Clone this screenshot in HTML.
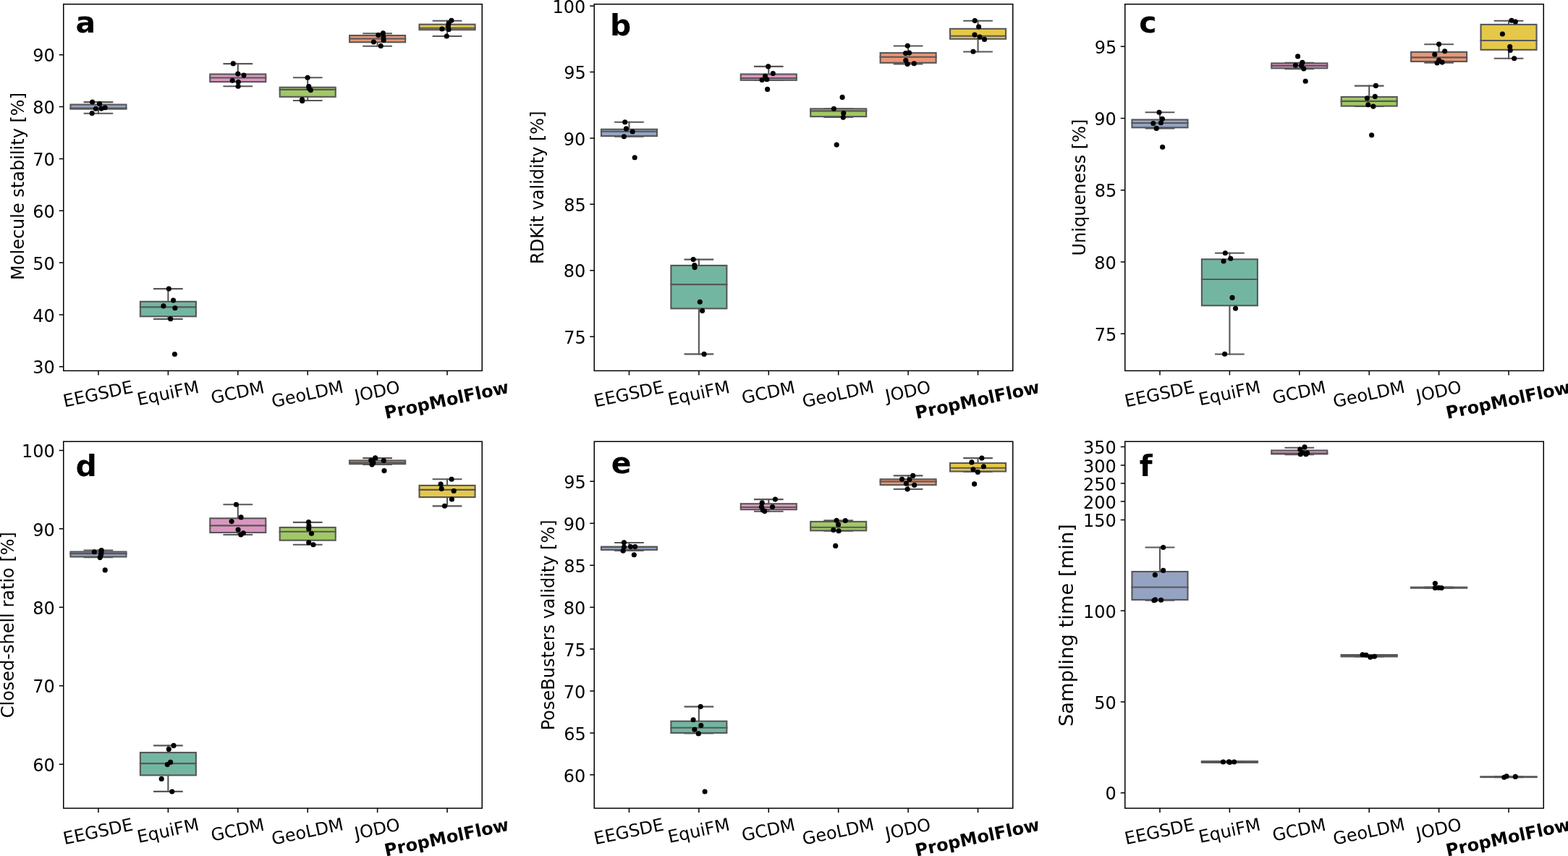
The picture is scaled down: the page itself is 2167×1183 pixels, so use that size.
<!DOCTYPE html>
<html><head><meta charset="utf-8"><title>Benchmark comparison box plots</title>
<style>
html,body{margin:0;padding:0;background:#fff;}
body{width:2167px;height:1183px;overflow:hidden;}
svg{display:block;}
text{font-family:"DejaVu Sans","Liberation Sans",sans-serif;fill:#000;}
</style></head><body>
<svg width="2167" height="1183" viewBox="0 0 2167 1183">
<rect width="2167" height="1183" fill="#fff"/>
<g stroke="#575757" stroke-width="2.1" stroke-linecap="square" fill="none"><line x1="135.96" y1="141.1" x2="135.96" y2="144.5"/><line x1="135.96" y1="150.6" x2="135.96" y2="156.7"/><line x1="116.66" y1="141.1" x2="155.26" y2="141.1"/><line x1="116.66" y1="156.7" x2="155.26" y2="156.7"/><rect x="97.46" y="144.5" width="77" height="6.1" fill="#95a3c3"/><line x1="97.46" y1="149.6" x2="174.46" y2="149.6"/><line x1="232.38" y1="399.1" x2="232.38" y2="416.8"/><line x1="232.38" y1="437.3" x2="232.38" y2="440.9"/><line x1="213.07" y1="399.1" x2="251.68" y2="399.1"/><line x1="213.07" y1="440.9" x2="251.68" y2="440.9"/><rect x="193.88" y="416.8" width="77" height="20.5" fill="#72b6a1"/><line x1="193.88" y1="424.4" x2="270.88" y2="424.4"/><line x1="328.79" y1="88.1" x2="328.79" y2="102.5"/><line x1="328.79" y1="113.1" x2="328.79" y2="119.3"/><line x1="309.49" y1="88.1" x2="348.09" y2="88.1"/><line x1="309.49" y1="119.3" x2="348.09" y2="119.3"/><rect x="290.29" y="102.5" width="77" height="10.6" fill="#db96c0"/><line x1="290.29" y1="107.5" x2="367.29" y2="107.5"/><line x1="425.21" y1="107.3" x2="425.21" y2="120.7"/><line x1="425.21" y1="133.8" x2="425.21" y2="139"/><line x1="405.91" y1="107.3" x2="444.51" y2="107.3"/><line x1="405.91" y1="139" x2="444.51" y2="139"/><rect x="386.71" y="120.7" width="77" height="13.1" fill="#a2c865"/><line x1="386.71" y1="123.9" x2="463.71" y2="123.9"/><line x1="521.62" y1="46.3" x2="521.62" y2="49"/><line x1="521.62" y1="58.3" x2="521.62" y2="63.8"/><line x1="502.32" y1="46.3" x2="540.92" y2="46.3"/><line x1="502.32" y1="63.8" x2="540.92" y2="63.8"/><rect x="483.12" y="49" width="77" height="9.3" fill="#e99675"/><line x1="483.12" y1="53.5" x2="560.12" y2="53.5"/><line x1="618.04" y1="28.7" x2="618.04" y2="33.7"/><line x1="618.04" y1="41.2" x2="618.04" y2="50"/><line x1="598.74" y1="28.7" x2="637.34" y2="28.7"/><line x1="598.74" y1="50" x2="637.34" y2="50"/><rect x="579.54" y="33.7" width="77" height="7.5" fill="#e5c849"/><line x1="579.54" y1="38.7" x2="656.54" y2="38.7"/></g>
<g fill="#000"><circle cx="127.6" cy="141" r="3.55"/><circle cx="137.6" cy="143.4" r="3.55"/><circle cx="132.3" cy="150.3" r="3.55"/><circle cx="140.1" cy="150.1" r="3.55"/><circle cx="145.2" cy="148.7" r="3.55"/><circle cx="127.2" cy="156.5" r="3.55"/><circle cx="233.3" cy="399.1" r="3.55"/><circle cx="239.5" cy="415.1" r="3.55"/><circle cx="225.9" cy="422.9" r="3.55"/><circle cx="241.9" cy="425.8" r="3.55"/><circle cx="235.7" cy="440.7" r="3.55"/><circle cx="241.4" cy="489.5" r="3.55"/><circle cx="322.3" cy="87.9" r="3.55"/><circle cx="328.8" cy="102.1" r="3.55"/><circle cx="337" cy="104.1" r="3.55"/><circle cx="321.2" cy="111.3" r="3.55"/><circle cx="329.3" cy="113.3" r="3.55"/><circle cx="329.1" cy="119.3" r="3.55"/><circle cx="425.1" cy="107.3" r="3.55"/><circle cx="426.7" cy="119.6" r="3.55"/><circle cx="427.2" cy="122.3" r="3.55"/><circle cx="429.4" cy="124.6" r="3.55"/><circle cx="417.5" cy="137.6" r="3.55"/><circle cx="417.7" cy="139.4" r="3.55"/><circle cx="529.4" cy="45.7" r="3.55"/><circle cx="522.8" cy="48.6" r="3.55"/><circle cx="529.9" cy="51" r="3.55"/><circle cx="530.1" cy="55.5" r="3.55"/><circle cx="516.4" cy="58" r="3.55"/><circle cx="526.3" cy="63.5" r="3.55"/><circle cx="623.9" cy="28.3" r="3.55"/><circle cx="620.1" cy="32.2" r="3.55"/><circle cx="619.4" cy="36.2" r="3.55"/><circle cx="610.9" cy="40" r="3.55"/><circle cx="620.1" cy="40.7" r="3.55"/><circle cx="617.3" cy="50" r="3.55"/></g>
<rect x="87.75" y="5.75" width="578.5" height="506.65" fill="none" stroke="#000" stroke-width="1.5"/>
<path d="M81.75 506.7H87.75M81.75 434.88H87.75M81.75 363.07H87.75M81.75 291.25H87.75M81.75 219.43H87.75M81.75 147.62H87.75M81.75 75.8H87.75M135.96 512.4V518.4M232.38 512.4V518.4M328.79 512.4V518.4M425.21 512.4V518.4M521.62 512.4V518.4M618.04 512.4V518.4" stroke="#000" stroke-width="1.5" fill="none"/>
<text id="yt_a_30" x="45.14" y="516.35" font-size="24">30</text>
<text id="yt_a_40" x="45.14" y="444.53" font-size="24">40</text>
<text id="yt_a_50" x="45.14" y="372.72" font-size="24">50</text>
<text id="yt_a_60" x="45.14" y="300.9" font-size="24">60</text>
<text id="yt_a_70" x="45.14" y="229.08" font-size="24">70</text>
<text id="yt_a_80" x="45.14" y="157.27" font-size="24">80</text>
<text id="yt_a_90" x="45.14" y="85.45" font-size="24">90</text>
<text id="yl_a" transform="translate(33.08,386.93) rotate(-90)" font-size="24">Molecule stability [%]</text>
<text id="lt_a" x="104.42" y="45.29" font-size="41" font-weight="bold">a</text>
<text id="xt_a_0" transform="translate(89.33,562.74) rotate(-12)" font-size="24">EEGSDE</text>
<text id="xt_a_1" transform="translate(191.43,560.44) rotate(-12)" font-size="24">EquiFM</text>
<text id="xt_a_2" transform="translate(293.6,558.18) rotate(-12)" font-size="24">GCDM</text>
<text id="xt_a_3" transform="translate(377.33,563.13) rotate(-12)" font-size="24">GeoLDM</text>
<text id="xt_a_4" transform="translate(491.99,555.54) rotate(-12)" font-size="24">JODO</text>
<text id="xt_a_5" transform="translate(533.36,579.05) rotate(-12)" font-size="24" font-weight="bold">PropMolFlow</text>
<g stroke="#575757" stroke-width="2.1" stroke-linecap="square" fill="none"><line x1="869.46" y1="168.8" x2="869.46" y2="178.7"/><line x1="869.46" y1="188" x2="869.46" y2="188.8"/><line x1="850.16" y1="168.8" x2="888.76" y2="168.8"/><line x1="850.16" y1="188.8" x2="888.76" y2="188.8"/><rect x="830.96" y="178.7" width="77" height="9.3" fill="#95a3c3"/><line x1="830.96" y1="181.7" x2="907.96" y2="181.7"/><line x1="965.88" y1="358.6" x2="965.88" y2="366.9"/><line x1="965.88" y1="426.4" x2="965.88" y2="489.4"/><line x1="946.58" y1="358.6" x2="985.17" y2="358.6"/><line x1="946.58" y1="489.4" x2="985.17" y2="489.4"/><rect x="927.38" y="366.9" width="77" height="59.5" fill="#72b6a1"/><line x1="927.38" y1="393.1" x2="1004.38" y2="393.1"/><line x1="1062.29" y1="91.9" x2="1062.29" y2="102.5"/><line x1="1042.99" y1="91.9" x2="1081.59" y2="91.9"/><line x1="1042.99" y1="110.8" x2="1081.59" y2="110.8"/><rect x="1023.79" y="102.5" width="77" height="8.3" fill="#db96c0"/><line x1="1023.79" y1="108" x2="1100.79" y2="108"/><line x1="1158.71" y1="161.1" x2="1158.71" y2="161.9"/><line x1="1139.41" y1="150.3" x2="1178.01" y2="150.3"/><line x1="1139.41" y1="161.9" x2="1178.01" y2="161.9"/><rect x="1120.21" y="150.3" width="77" height="10.8" fill="#a2c865"/><line x1="1120.21" y1="153.4" x2="1197.21" y2="153.4"/><line x1="1255.12" y1="63.5" x2="1255.12" y2="73.1"/><line x1="1255.12" y1="86.8" x2="1255.12" y2="88.4"/><line x1="1235.83" y1="63.5" x2="1274.42" y2="63.5"/><line x1="1235.83" y1="88.4" x2="1274.42" y2="88.4"/><rect x="1216.62" y="73.1" width="77" height="13.7" fill="#e99675"/><line x1="1216.62" y1="78.7" x2="1293.62" y2="78.7"/><line x1="1351.54" y1="28.7" x2="1351.54" y2="39.8"/><line x1="1351.54" y1="53.8" x2="1351.54" y2="71.5"/><line x1="1332.24" y1="28.7" x2="1370.84" y2="28.7"/><line x1="1332.24" y1="71.5" x2="1370.84" y2="71.5"/><rect x="1313.04" y="39.8" width="77" height="14" fill="#e5c849"/><line x1="1313.04" y1="49.7" x2="1390.04" y2="49.7"/></g>
<g fill="#000"><circle cx="863.7" cy="168.8" r="3.55"/><circle cx="865.4" cy="177.9" r="3.55"/><circle cx="874.2" cy="182" r="3.55"/><circle cx="862.4" cy="188.8" r="3.55"/><circle cx="877.2" cy="217.7" r="3.55"/><circle cx="958.2" cy="358.6" r="3.55"/><circle cx="959.8" cy="366.5" r="3.55"/><circle cx="960.1" cy="369.6" r="3.55"/><circle cx="967.3" cy="417.2" r="3.55"/><circle cx="970.6" cy="429.6" r="3.55"/><circle cx="973.1" cy="489.4" r="3.55"/><circle cx="1061.7" cy="91.9" r="3.55"/><circle cx="1068.3" cy="101.6" r="3.55"/><circle cx="1057.5" cy="105.3" r="3.55"/><circle cx="1059.8" cy="109.7" r="3.55"/><circle cx="1053.1" cy="110.5" r="3.55"/><circle cx="1060.6" cy="123.4" r="3.55"/><circle cx="1164.1" cy="134.4" r="3.55"/><circle cx="1152.4" cy="150.3" r="3.55"/><circle cx="1165.8" cy="156.4" r="3.55"/><circle cx="1165.3" cy="162.2" r="3.55"/><circle cx="1156.2" cy="200.1" r="3.55"/><circle cx="1254.3" cy="63.2" r="3.55"/><circle cx="1251.6" cy="73.6" r="3.55"/><circle cx="1256.6" cy="73.1" r="3.55"/><circle cx="1251.8" cy="83.5" r="3.55"/><circle cx="1254.1" cy="88.6" r="3.55"/><circle cx="1263.3" cy="87.7" r="3.55"/><circle cx="1347.2" cy="28.6" r="3.55"/><circle cx="1352.6" cy="37.1" r="3.55"/><circle cx="1347" cy="48.1" r="3.55"/><circle cx="1354" cy="51.1" r="3.55"/><circle cx="1360.5" cy="54.4" r="3.55"/><circle cx="1345" cy="71.3" r="3.55"/></g>
<rect x="821.25" y="5.75" width="578.5" height="506.65" fill="none" stroke="#000" stroke-width="1.5"/>
<path d="M815.25 465.15H821.25M815.25 373.76H821.25M815.25 282.37H821.25M815.25 190.98H821.25M815.25 99.59H821.25M815.25 8.2H821.25M869.46 512.4V518.4M965.88 512.4V518.4M1062.29 512.4V518.4M1158.71 512.4V518.4M1255.12 512.4V518.4M1351.54 512.4V518.4" stroke="#000" stroke-width="1.5" fill="none"/>
<text id="yt_b_75" x="779.14" y="474.61" font-size="24">75</text>
<text id="yt_b_80" x="778.64" y="383.41" font-size="24">80</text>
<text id="yt_b_85" x="779.14" y="292.02" font-size="24">85</text>
<text id="yt_b_90" x="778.64" y="200.63" font-size="24">90</text>
<text id="yt_b_95" x="779.14" y="109.24" font-size="24">95</text>
<text id="yt_b_100" x="763.39" y="17.85" font-size="24">100</text>
<text id="yl_b" transform="translate(751.42,365.02) rotate(-90)" font-size="24">RDKit validity [%]</text>
<text id="lt_b" x="843.1" y="49.15" font-size="41" font-weight="bold">b</text>
<text id="xt_b_0" transform="translate(822.83,562.74) rotate(-12)" font-size="24">EEGSDE</text>
<text id="xt_b_1" transform="translate(924.93,560.44) rotate(-12)" font-size="24">EquiFM</text>
<text id="xt_b_2" transform="translate(1027.1,558.18) rotate(-12)" font-size="24">GCDM</text>
<text id="xt_b_3" transform="translate(1110.83,563.13) rotate(-12)" font-size="24">GeoLDM</text>
<text id="xt_b_4" transform="translate(1225.49,555.54) rotate(-12)" font-size="24">JODO</text>
<text id="xt_b_5" transform="translate(1266.86,579.05) rotate(-12)" font-size="24" font-weight="bold">PropMolFlow</text>
<g stroke="#575757" stroke-width="2.1" stroke-linecap="square" fill="none"><line x1="1602.96" y1="155.3" x2="1602.96" y2="165.4"/><line x1="1602.96" y1="176.3" x2="1602.96" y2="177.4"/><line x1="1583.66" y1="155.3" x2="1622.26" y2="155.3"/><line x1="1583.66" y1="177.4" x2="1622.26" y2="177.4"/><rect x="1564.46" y="165.4" width="77" height="10.9" fill="#95a3c3"/><line x1="1564.46" y1="170" x2="1641.46" y2="170"/><line x1="1699.38" y1="349.7" x2="1699.38" y2="358.3"/><line x1="1699.38" y1="422.3" x2="1699.38" y2="489.5"/><line x1="1680.08" y1="349.7" x2="1718.67" y2="349.7"/><line x1="1680.08" y1="489.5" x2="1718.67" y2="489.5"/><rect x="1660.88" y="358.3" width="77" height="64" fill="#72b6a1"/><line x1="1660.88" y1="386" x2="1737.88" y2="386"/><line x1="1795.79" y1="86.9" x2="1795.79" y2="87.4"/><line x1="1795.79" y1="94.3" x2="1795.79" y2="95.1"/><line x1="1776.49" y1="86.9" x2="1815.09" y2="86.9"/><line x1="1776.49" y1="95.1" x2="1815.09" y2="95.1"/><rect x="1757.29" y="87.4" width="77" height="6.9" fill="#db96c0"/><line x1="1757.29" y1="90.9" x2="1834.29" y2="90.9"/><line x1="1892.21" y1="118.6" x2="1892.21" y2="133.9"/><line x1="1872.91" y1="118.6" x2="1911.51" y2="118.6"/><line x1="1872.91" y1="146.9" x2="1911.51" y2="146.9"/><rect x="1853.71" y="133.9" width="77" height="12.7" fill="#a2c865"/><line x1="1853.71" y1="139.9" x2="1930.71" y2="139.9"/><line x1="1988.62" y1="61.2" x2="1988.62" y2="71.9"/><line x1="1988.62" y1="85" x2="1988.62" y2="86.6"/><line x1="1969.33" y1="61.2" x2="2007.92" y2="61.2"/><line x1="1969.33" y1="86.6" x2="2007.92" y2="86.6"/><rect x="1950.12" y="71.9" width="77" height="13.1" fill="#e99675"/><line x1="1950.12" y1="79.4" x2="2027.12" y2="79.4"/><line x1="2085.04" y1="28.8" x2="2085.04" y2="33.9"/><line x1="2085.04" y1="68.8" x2="2085.04" y2="80.7"/><line x1="2065.74" y1="28.8" x2="2104.34" y2="28.8"/><line x1="2065.74" y1="80.7" x2="2104.34" y2="80.7"/><rect x="2046.54" y="33.9" width="77" height="34.9" fill="#e5c849"/><line x1="2046.54" y1="56" x2="2123.54" y2="56"/></g>
<g fill="#000"><circle cx="1602" cy="155.2" r="3.55"/><circle cx="1606.4" cy="164.2" r="3.55"/><circle cx="1593.8" cy="170.5" r="3.55"/><circle cx="1604.4" cy="169.8" r="3.55"/><circle cx="1598.2" cy="177.4" r="3.55"/><circle cx="1606.6" cy="203.2" r="3.55"/><circle cx="1693.3" cy="349.7" r="3.55"/><circle cx="1700.7" cy="357.3" r="3.55"/><circle cx="1691" cy="361" r="3.55"/><circle cx="1703" cy="411.4" r="3.55"/><circle cx="1707.5" cy="426.2" r="3.55"/><circle cx="1692.6" cy="489.3" r="3.55"/><circle cx="1793.6" cy="77.9" r="3.55"/><circle cx="1799.9" cy="86.4" r="3.55"/><circle cx="1790.4" cy="90.3" r="3.55"/><circle cx="1798.4" cy="90.6" r="3.55"/><circle cx="1801.8" cy="95" r="3.55"/><circle cx="1804.2" cy="112.3" r="3.55"/><circle cx="1901.4" cy="118.4" r="3.55"/><circle cx="1900.3" cy="133.4" r="3.55"/><circle cx="1889.4" cy="135.7" r="3.55"/><circle cx="1890.8" cy="144.7" r="3.55"/><circle cx="1897.9" cy="147.1" r="3.55"/><circle cx="1895.6" cy="186.7" r="3.55"/><circle cx="1988.6" cy="61.1" r="3.55"/><circle cx="1996.7" cy="70.8" r="3.55"/><circle cx="1982.8" cy="75.3" r="3.55"/><circle cx="1988.6" cy="83.4" r="3.55"/><circle cx="1986.1" cy="87" r="3.55"/><circle cx="1993.1" cy="86.1" r="3.55"/><circle cx="2089" cy="28.3" r="3.55"/><circle cx="2094.4" cy="30.1" r="3.55"/><circle cx="2076.4" cy="47" r="3.55"/><circle cx="2086.7" cy="64.5" r="3.55"/><circle cx="2087.2" cy="69.5" r="3.55"/><circle cx="2092.7" cy="80.7" r="3.55"/></g>
<rect x="1554.75" y="5.75" width="578.5" height="506.65" fill="none" stroke="#000" stroke-width="1.5"/>
<path d="M1548.75 461.3H1554.75M1548.75 362.02H1554.75M1548.75 262.75H1554.75M1548.75 163.48H1554.75M1548.75 64.2H1554.75M1602.96 512.4V518.4M1699.38 512.4V518.4M1795.79 512.4V518.4M1892.21 512.4V518.4M1988.62 512.4V518.4M2085.04 512.4V518.4" stroke="#000" stroke-width="1.5" fill="none"/>
<text id="yt_c_75" x="1512.64" y="470.76" font-size="24">75</text>
<text id="yt_c_80" x="1512.14" y="371.67" font-size="24">80</text>
<text id="yt_c_85" x="1512.64" y="272.4" font-size="24">85</text>
<text id="yt_c_90" x="1512.14" y="173.13" font-size="24">90</text>
<text id="yt_c_95" x="1512.64" y="73.85" font-size="24">95</text>
<text id="yl_c" transform="translate(1499.88,353.49) rotate(-90)" font-size="24">Uniqueness [%]</text>
<text id="lt_c" x="1574.22" y="45.29" font-size="41" font-weight="bold">c</text>
<text id="xt_c_0" transform="translate(1556.33,562.74) rotate(-12)" font-size="24">EEGSDE</text>
<text id="xt_c_1" transform="translate(1658.43,560.44) rotate(-12)" font-size="24">EquiFM</text>
<text id="xt_c_2" transform="translate(1760.6,558.18) rotate(-12)" font-size="24">GCDM</text>
<text id="xt_c_3" transform="translate(1844.33,563.13) rotate(-12)" font-size="24">GeoLDM</text>
<text id="xt_c_4" transform="translate(1958.99,555.54) rotate(-12)" font-size="24">JODO</text>
<text id="xt_c_5" transform="translate(2000.36,579.05) rotate(-12)" font-size="24" font-weight="bold">PropMolFlow</text>
<g stroke="#575757" stroke-width="2.1" stroke-linecap="square" fill="none"><line x1="135.96" y1="760.5" x2="135.96" y2="762.5"/><line x1="135.96" y1="769.5" x2="135.96" y2="770.2"/><line x1="116.66" y1="760.5" x2="155.26" y2="760.5"/><line x1="116.66" y1="770.2" x2="155.26" y2="770.2"/><rect x="97.46" y="762.5" width="77" height="7" fill="#95a3c3"/><line x1="97.46" y1="765.1" x2="174.46" y2="765.1"/><line x1="232.38" y1="1030.4" x2="232.38" y2="1040"/><line x1="232.38" y1="1071.4" x2="232.38" y2="1093.9"/><line x1="213.07" y1="1030.4" x2="251.68" y2="1030.4"/><line x1="213.07" y1="1093.9" x2="251.68" y2="1093.9"/><rect x="193.88" y="1040" width="77" height="31.4" fill="#72b6a1"/><line x1="193.88" y1="1055.1" x2="270.88" y2="1055.1"/><line x1="328.79" y1="697.3" x2="328.79" y2="716.3"/><line x1="328.79" y1="736" x2="328.79" y2="739"/><line x1="309.49" y1="697.3" x2="348.09" y2="697.3"/><line x1="309.49" y1="739" x2="348.09" y2="739"/><rect x="290.29" y="716.3" width="77" height="19.7" fill="#db96c0"/><line x1="290.29" y1="726.4" x2="367.29" y2="726.4"/><line x1="425.21" y1="721.9" x2="425.21" y2="728.9"/><line x1="425.21" y1="746.7" x2="425.21" y2="752.7"/><line x1="405.91" y1="721.9" x2="444.51" y2="721.9"/><line x1="405.91" y1="752.7" x2="444.51" y2="752.7"/><rect x="386.71" y="728.9" width="77" height="17.8" fill="#a2c865"/><line x1="386.71" y1="734.7" x2="463.71" y2="734.7"/><line x1="521.62" y1="633.1" x2="521.62" y2="636.4"/><line x1="521.62" y1="641.2" x2="521.62" y2="641.9"/><line x1="502.32" y1="633.1" x2="540.92" y2="633.1"/><line x1="502.32" y1="641.9" x2="540.92" y2="641.9"/><rect x="483.12" y="636.4" width="77" height="4.8" fill="#e99675"/><line x1="483.12" y1="639.4" x2="560.12" y2="639.4"/><line x1="618.04" y1="662.3" x2="618.04" y2="670.9"/><line x1="618.04" y1="687.1" x2="618.04" y2="699.4"/><line x1="598.74" y1="662.3" x2="637.34" y2="662.3"/><line x1="598.74" y1="699.4" x2="637.34" y2="699.4"/><rect x="579.54" y="670.9" width="77" height="16.2" fill="#e5c849"/><line x1="579.54" y1="676.9" x2="656.54" y2="676.9"/></g>
<g fill="#000"><circle cx="130.3" cy="762.7" r="3.55"/><circle cx="140.2" cy="760.5" r="3.55"/><circle cx="140" cy="764" r="3.55"/><circle cx="139.5" cy="767.1" r="3.55"/><circle cx="138.2" cy="770.6" r="3.55"/><circle cx="145.2" cy="787.9" r="3.55"/><circle cx="240" cy="1030.4" r="3.55"/><circle cx="233.3" cy="1035.4" r="3.55"/><circle cx="235.6" cy="1053.4" r="3.55"/><circle cx="231.3" cy="1056.6" r="3.55"/><circle cx="223.2" cy="1076.4" r="3.55"/><circle cx="237.8" cy="1094" r="3.55"/><circle cx="326.4" cy="697.3" r="3.55"/><circle cx="333.1" cy="714.9" r="3.55"/><circle cx="320.1" cy="720.6" r="3.55"/><circle cx="329.1" cy="732" r="3.55"/><circle cx="336.3" cy="736.8" r="3.55"/><circle cx="332.9" cy="739" r="3.55"/><circle cx="426.5" cy="721.5" r="3.55"/><circle cx="426.9" cy="726.9" r="3.55"/><circle cx="426.7" cy="730.9" r="3.55"/><circle cx="430.5" cy="737.2" r="3.55"/><circle cx="426.7" cy="749.8" r="3.55"/><circle cx="433" cy="752.7" r="3.55"/><circle cx="518.6" cy="632.9" r="3.55"/><circle cx="512.8" cy="636.2" r="3.55"/><circle cx="530.3" cy="636.5" r="3.55"/><circle cx="515.9" cy="639.4" r="3.55"/><circle cx="514.1" cy="642.1" r="3.55"/><circle cx="531" cy="650.6" r="3.55"/><circle cx="624.1" cy="662.3" r="3.55"/><circle cx="609.1" cy="669.1" r="3.55"/><circle cx="610.2" cy="675.4" r="3.55"/><circle cx="627.2" cy="678.5" r="3.55"/><circle cx="624.4" cy="690" r="3.55"/><circle cx="614.5" cy="699.2" r="3.55"/></g>
<rect x="87.75" y="610.2" width="578.5" height="506.8" fill="none" stroke="#000" stroke-width="1.5"/>
<path d="M81.75 1056.2H87.75M81.75 947.75H87.75M81.75 839.3H87.75M81.75 730.85H87.75M81.75 622.4H87.75M135.96 1117V1123M232.38 1117V1123M328.79 1117V1123M425.21 1117V1123M521.62 1117V1123M618.04 1117V1123" stroke="#000" stroke-width="1.5" fill="none"/>
<text id="yt_d_60" x="45.14" y="1065.85" font-size="24">60</text>
<text id="yt_d_70" x="45.14" y="957.4" font-size="24">70</text>
<text id="yt_d_80" x="45.14" y="848.95" font-size="24">80</text>
<text id="yt_d_90" x="45.14" y="740.5" font-size="24">90</text>
<text id="yt_d_100" x="29.89" y="632.05" font-size="24">100</text>
<text id="yl_d" transform="translate(18.54,992.3) rotate(-90)" font-size="24">Closed-shell ratio [%]</text>
<text id="lt_d" x="104.52" y="658" font-size="41" font-weight="bold">d</text>
<text id="xt_d_0" transform="translate(89.33,1167.34) rotate(-12)" font-size="24">EEGSDE</text>
<text id="xt_d_1" transform="translate(191.43,1165.04) rotate(-12)" font-size="24">EquiFM</text>
<text id="xt_d_2" transform="translate(293.6,1162.78) rotate(-12)" font-size="24">GCDM</text>
<text id="xt_d_3" transform="translate(377.33,1167.73) rotate(-12)" font-size="24">GeoLDM</text>
<text id="xt_d_4" transform="translate(491.99,1160.14) rotate(-12)" font-size="24">JODO</text>
<text id="xt_d_5" transform="translate(533.36,1183.65) rotate(-12)" font-size="24" font-weight="bold">PropMolFlow</text>
<g stroke="#575757" stroke-width="2.1" stroke-linecap="square" fill="none"><line x1="869.46" y1="750" x2="869.46" y2="755.8"/><line x1="869.46" y1="759.9" x2="869.46" y2="761"/><line x1="850.16" y1="750" x2="888.76" y2="750"/><line x1="850.16" y1="761" x2="888.76" y2="761"/><rect x="830.96" y="755.8" width="77" height="4.1" fill="#95a3c3"/><line x1="830.96" y1="755.8" x2="907.96" y2="755.8"/><line x1="965.88" y1="976.6" x2="965.88" y2="996.7"/><line x1="965.88" y1="1012.9" x2="965.88" y2="1013.5"/><line x1="946.58" y1="976.6" x2="985.17" y2="976.6"/><line x1="946.58" y1="1013.5" x2="985.17" y2="1013.5"/><rect x="927.38" y="996.7" width="77" height="16.2" fill="#72b6a1"/><line x1="927.38" y1="1005.8" x2="1004.38" y2="1005.8"/><line x1="1062.29" y1="690.1" x2="1062.29" y2="696.2"/><line x1="1062.29" y1="704.2" x2="1062.29" y2="706.8"/><line x1="1042.99" y1="690.1" x2="1081.59" y2="690.1"/><line x1="1042.99" y1="706.8" x2="1081.59" y2="706.8"/><rect x="1023.79" y="696.2" width="77" height="8" fill="#db96c0"/><line x1="1023.79" y1="701" x2="1100.79" y2="701"/><line x1="1158.71" y1="719.4" x2="1158.71" y2="720.9"/><line x1="1158.71" y1="733.3" x2="1158.71" y2="733.8"/><line x1="1139.41" y1="719.4" x2="1178.01" y2="719.4"/><line x1="1139.41" y1="733.8" x2="1178.01" y2="733.8"/><rect x="1120.21" y="720.9" width="77" height="12.4" fill="#a2c865"/><line x1="1120.21" y1="728.7" x2="1197.21" y2="728.7"/><line x1="1255.12" y1="657.4" x2="1255.12" y2="662.3"/><line x1="1255.12" y1="670.2" x2="1255.12" y2="676"/><line x1="1235.83" y1="657.4" x2="1274.42" y2="657.4"/><line x1="1235.83" y1="676" x2="1274.42" y2="676"/><rect x="1216.62" y="662.3" width="77" height="7.9" fill="#e99675"/><line x1="1216.62" y1="665.5" x2="1293.62" y2="665.5"/><line x1="1351.54" y1="633.1" x2="1351.54" y2="640"/><line x1="1351.54" y1="651.5" x2="1351.54" y2="652"/><line x1="1332.24" y1="633.1" x2="1370.84" y2="633.1"/><line x1="1332.24" y1="652" x2="1370.84" y2="652"/><rect x="1313.04" y="640" width="77" height="11.5" fill="#e5c849"/><line x1="1313.04" y1="646.8" x2="1390.04" y2="646.8"/></g>
<g fill="#000"><circle cx="862.4" cy="749.8" r="3.55"/><circle cx="862.4" cy="756" r="3.55"/><circle cx="861.1" cy="761.2" r="3.55"/><circle cx="871.5" cy="755.6" r="3.55"/><circle cx="877.7" cy="755.6" r="3.55"/><circle cx="876.3" cy="766.8" r="3.55"/><circle cx="968.2" cy="976.6" r="3.55"/><circle cx="958.1" cy="994.8" r="3.55"/><circle cx="968.8" cy="1002.6" r="3.55"/><circle cx="959.9" cy="1008.2" r="3.55"/><circle cx="965.3" cy="1013.9" r="3.55"/><circle cx="974.1" cy="1094" r="3.55"/><circle cx="1071.4" cy="690.1" r="3.55"/><circle cx="1053.2" cy="694.9" r="3.55"/><circle cx="1052.4" cy="700.5" r="3.55"/><circle cx="1067.5" cy="700.5" r="3.55"/><circle cx="1054.4" cy="705.1" r="3.55"/><circle cx="1056.8" cy="706.6" r="3.55"/><circle cx="1156.1" cy="719.2" r="3.55"/><circle cx="1168.3" cy="719.5" r="3.55"/><circle cx="1158.6" cy="725" r="3.55"/><circle cx="1151.8" cy="732.5" r="3.55"/><circle cx="1159.1" cy="733.8" r="3.55"/><circle cx="1154.7" cy="754.4" r="3.55"/><circle cx="1261.7" cy="657.4" r="3.55"/><circle cx="1246.6" cy="662.3" r="3.55"/><circle cx="1256.9" cy="662.8" r="3.55"/><circle cx="1252.4" cy="668.3" r="3.55"/><circle cx="1263.7" cy="670.4" r="3.55"/><circle cx="1254.1" cy="676" r="3.55"/><circle cx="1356.9" cy="633.1" r="3.55"/><circle cx="1342.9" cy="638.9" r="3.55"/><circle cx="1359.4" cy="644.8" r="3.55"/><circle cx="1345" cy="648.8" r="3.55"/><circle cx="1351.3" cy="652.4" r="3.55"/><circle cx="1346.6" cy="668.9" r="3.55"/></g>
<rect x="821.25" y="610.2" width="578.5" height="506.8" fill="none" stroke="#000" stroke-width="1.5"/>
<path d="M815.25 1070.85H821.25M815.25 1012.92H821.25M815.25 954.99H821.25M815.25 897.06H821.25M815.25 839.14H821.25M815.25 781.21H821.25M815.25 723.28H821.25M815.25 665.35H821.25M869.46 1117V1123M965.88 1117V1123M1062.29 1117V1123M1158.71 1117V1123M1255.12 1117V1123M1351.54 1117V1123" stroke="#000" stroke-width="1.5" fill="none"/>
<text id="yt_e_60" x="778.64" y="1080.5" font-size="24">60</text>
<text id="yt_e_65" x="779.14" y="1022.57" font-size="24">65</text>
<text id="yt_e_70" x="778.64" y="964.64" font-size="24">70</text>
<text id="yt_e_75" x="779.14" y="906.53" font-size="24">75</text>
<text id="yt_e_80" x="778.64" y="848.79" font-size="24">80</text>
<text id="yt_e_85" x="779.14" y="790.86" font-size="24">85</text>
<text id="yt_e_90" x="778.64" y="732.93" font-size="24">90</text>
<text id="yt_e_95" x="779.14" y="675" font-size="24">95</text>
<text id="yl_e" transform="translate(765.92,1009.26) rotate(-90)" font-size="24">PoseBusters validity [%]</text>
<text id="lt_e" x="844.79" y="654.04" font-size="41" font-weight="bold">e</text>
<text id="xt_e_0" transform="translate(822.83,1167.34) rotate(-12)" font-size="24">EEGSDE</text>
<text id="xt_e_1" transform="translate(924.93,1165.04) rotate(-12)" font-size="24">EquiFM</text>
<text id="xt_e_2" transform="translate(1027.1,1162.78) rotate(-12)" font-size="24">GCDM</text>
<text id="xt_e_3" transform="translate(1110.83,1167.73) rotate(-12)" font-size="24">GeoLDM</text>
<text id="xt_e_4" transform="translate(1225.49,1160.14) rotate(-12)" font-size="24">JODO</text>
<text id="xt_e_5" transform="translate(1266.86,1183.65) rotate(-12)" font-size="24" font-weight="bold">PropMolFlow</text>
<g stroke="#575757" stroke-width="2.1" stroke-linecap="square" fill="none"><line x1="1602.96" y1="756.5" x2="1602.96" y2="790"/><line x1="1602.96" y1="828.9" x2="1602.96" y2="829.7"/><line x1="1583.66" y1="756.5" x2="1622.26" y2="756.5"/><line x1="1583.66" y1="829.7" x2="1622.26" y2="829.7"/><rect x="1564.46" y="790" width="77" height="38.9" fill="#95a3c3"/><line x1="1564.46" y1="811.5" x2="1641.46" y2="811.5"/><line x1="1680.08" y1="1052.1" x2="1718.67" y2="1052.1"/><line x1="1680.08" y1="1053.9" x2="1718.67" y2="1053.9"/><rect x="1660.88" y="1052.1" width="77" height="1.8" fill="#72b6a1"/><line x1="1660.88" y1="1053" x2="1737.88" y2="1053"/><line x1="1795.79" y1="618.7" x2="1795.79" y2="622.5"/><line x1="1795.79" y1="627.4" x2="1795.79" y2="628.2"/><line x1="1776.49" y1="618.7" x2="1815.09" y2="618.7"/><line x1="1776.49" y1="628.2" x2="1815.09" y2="628.2"/><rect x="1757.29" y="622.5" width="77" height="4.9" fill="#db96c0"/><line x1="1757.29" y1="626.5" x2="1834.29" y2="626.5"/><line x1="1872.91" y1="905" x2="1911.51" y2="905"/><line x1="1872.91" y1="907.4" x2="1911.51" y2="907.4"/><rect x="1853.71" y="905" width="77" height="2.4" fill="#a2c865"/><line x1="1853.71" y1="906.2" x2="1930.71" y2="906.2"/><line x1="1969.33" y1="811.6" x2="2007.92" y2="811.6"/><line x1="1969.33" y1="812.6" x2="2007.92" y2="812.6"/><rect x="1950.12" y="811.6" width="77" height="1" fill="#e99675"/><line x1="1950.12" y1="812.1" x2="2027.12" y2="812.1"/><line x1="2065.74" y1="1073.4" x2="2104.34" y2="1073.4"/><line x1="2065.74" y1="1074.1" x2="2104.34" y2="1074.1"/><rect x="2046.54" y="1073.4" width="77" height="0.7" fill="#e5c849"/><line x1="2046.54" y1="1073.75" x2="2123.54" y2="1073.75"/></g>
<g fill="#000"><circle cx="1607.6" cy="756.5" r="3.55"/><circle cx="1607.6" cy="788.4" r="3.55"/><circle cx="1596.3" cy="794.6" r="3.55"/><circle cx="1596.5" cy="828.9" r="3.55"/><circle cx="1594.9" cy="829.7" r="3.55"/><circle cx="1604.6" cy="829.3" r="3.55"/><circle cx="1690.4" cy="1053" r="3.55"/><circle cx="1698.5" cy="1052.8" r="3.55"/><circle cx="1699.5" cy="1053.5" r="3.55"/><circle cx="1705.6" cy="1053" r="3.55"/><circle cx="1803" cy="617.9" r="3.55"/><circle cx="1796.7" cy="621" r="3.55"/><circle cx="1797.3" cy="627.8" r="3.55"/><circle cx="1804.8" cy="627.8" r="3.55"/><circle cx="1800.4" cy="625.6" r="3.55"/><circle cx="1806.6" cy="626" r="3.55"/><circle cx="1883.1" cy="904.8" r="3.55"/><circle cx="1888" cy="905.2" r="3.55"/><circle cx="1893.8" cy="908.2" r="3.55"/><circle cx="1899.5" cy="907.3" r="3.55"/><circle cx="1983.4" cy="806.2" r="3.55"/><circle cx="1983.4" cy="812.5" r="3.55"/><circle cx="1988.2" cy="812.3" r="3.55"/><circle cx="1992.2" cy="812.5" r="3.55"/><circle cx="2078.8" cy="1074.3" r="3.55"/><circle cx="2082.1" cy="1072.7" r="3.55"/><circle cx="2094.3" cy="1073.4" r="3.55"/></g>
<rect x="1554.75" y="610.2" width="578.5" height="506.8" fill="none" stroke="#000" stroke-width="1.5"/>
<path d="M1548.75 1095.7H1554.75M1548.75 969.9H1554.75M1548.75 844.1H1554.75M1548.75 718.4H1554.75M1548.75 693.1H1554.75M1548.75 667.9H1554.75M1548.75 643H1554.75M1548.75 617.6H1554.75M1602.96 1117V1123M1699.38 1117V1123M1795.79 1117V1123M1892.21 1117V1123M1988.62 1117V1123M2085.04 1117V1123" stroke="#000" stroke-width="1.5" fill="none"/>
<text id="yt_f_0" x="1527.39" y="1105.35" font-size="24">0</text>
<text id="yt_f_50" x="1512.14" y="979.55" font-size="24">50</text>
<text id="yt_f_100" x="1496.89" y="853.75" font-size="24">100</text>
<text id="yt_f_150" x="1496.89" y="728.05" font-size="24">150</text>
<text id="yt_f_200" x="1496.89" y="702.75" font-size="24">200</text>
<text id="yt_f_250" x="1496.89" y="677.55" font-size="24">250</text>
<text id="yt_f_300" x="1496.89" y="652.65" font-size="24">300</text>
<text id="yt_f_350" x="1496.89" y="627.25" font-size="24">350</text>
<text id="yl_f" transform="translate(1483.15,1004.12) rotate(-90)" font-size="27.35">Sampling time [min]</text>
<text id="lt_f" x="1574.65" y="658.46" font-size="41" font-weight="bold">f</text>
<text id="xt_f_0" transform="translate(1556.33,1167.34) rotate(-12)" font-size="24">EEGSDE</text>
<text id="xt_f_1" transform="translate(1658.43,1165.04) rotate(-12)" font-size="24">EquiFM</text>
<text id="xt_f_2" transform="translate(1760.6,1162.78) rotate(-12)" font-size="24">GCDM</text>
<text id="xt_f_3" transform="translate(1844.33,1167.73) rotate(-12)" font-size="24">GeoLDM</text>
<text id="xt_f_4" transform="translate(1958.99,1160.14) rotate(-12)" font-size="24">JODO</text>
<text id="xt_f_5" transform="translate(2000.36,1183.65) rotate(-12)" font-size="24" font-weight="bold">PropMolFlow</text>
</svg>
</body></html>
